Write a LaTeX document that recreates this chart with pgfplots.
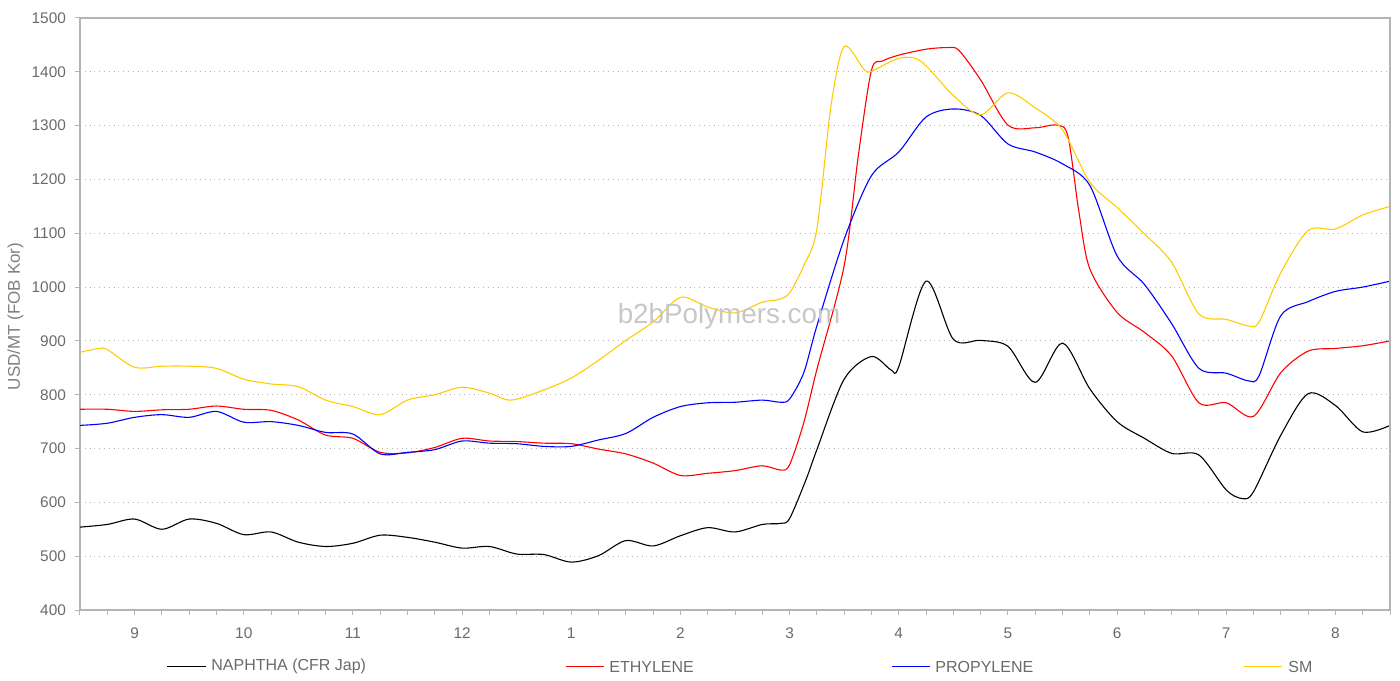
\documentclass[border=0pt]{standalone}
\usepackage{pgfplots}
\pgfplotsset{compat=1.18}
\usepackage{fontspec}
\setmainfont{Liberation Sans}
\definecolor{smcol}{HTML}{FFCC00}
\definecolor{txtgray}{HTML}{6A6A6A}
\definecolor{axgray}{HTML}{B4B4B4}
\begin{document}
\begin{tikzpicture}[x=1pt,y=1pt]
\path[use as bounding box] (-40,-35) rectangle (660,305);
\begin{axis}[
  at={(0,0)}, anchor=south west,
  scale only axis, width=655pt, height=296pt,
  xmin=0.5, xmax=12.5, ymin=400, ymax=1500,
  xtick={1,...,12},
  xticklabels={9,10,11,12,1,2,3,4,5,6,7,8},
  minor xtick={0.5,0.75,...,12.5},
  ytick={400,500,...,1500},
  tick pos=left, tick align=outside,
  major tick length=2.5pt, minor tick length=2.5pt,
  every tick/.style={axgray, line width=0.5pt},
  axis line style={axgray, line width=0.6pt},
  ymajorgrids, major grid style={dotted, color=black!30, line width=0.5pt},
  /pgf/number format/assume math mode=true,
  /pgf/number format/1000 sep={},
  ticklabel style={font=\fontsize{7.7}{9}\selectfont, text=txtgray},
  xticklabel style={yshift=-3pt},
  yticklabel style={xshift=-1pt},
  clip=true,
]
% NAPHTHA
\addplot[black, line width=0.55pt, smooth, tension=0.5] coordinates {
(0.5,554)(0.75,559)(1.0,569)(1.25,550)(1.5,569)(1.75,561)(2.0,540)(2.25,545)(2.5,526)(2.75,518)
(3.0,524)(3.25,539)(3.5,535)(3.75,526)(4.0,515)(4.25,518)(4.5,504)(4.75,503)(5.0,489)(5.25,501)
(5.5,529)(5.75,519)(6.0,538)(6.25,553)(6.5,545)(6.75,559)(6.92,561)(7.0,570)(7.15,642)(7.25,698)
(7.5,829)(7.75,871)(7.93,846)(8.0,852)(8.25,1011)(8.5,903)(8.75,901)(9.0,890)(9.25,823)(9.5,896)
(9.75,811)(10.0,750)(10.25,719)(10.5,691)(10.75,688)(11.0,623)(11.15,607)(11.25,620)(11.5,725)
(11.75,802)(12.0,780)(12.25,731)(12.5,743)
};
% ETHYLENE
\addplot[red, line width=0.55pt, smooth, tension=0.5] coordinates {
(0.5,773)(0.75,773)(1.0,769)(1.25,772)(1.5,773)(1.75,779)(2.0,773)(2.25,771)(2.5,753)(2.75,725)
(3.0,719)(3.25,693)(3.5,692)(3.75,702)(4.0,719)(4.25,714)(4.5,713)(4.75,710)(5.0,709)(5.25,699)
(5.5,690)(5.75,673)(6.0,650)(6.25,654)(6.5,659)(6.75,668)(6.92,660)(7.0,670)(7.13,748)(7.25,847)
(7.5,1040)(7.63,1245)(7.75,1403)(7.85,1420)(8.0,1431)(8.25,1442)(8.45,1445)(8.55,1440)(8.75,1385)(9.0,1301)
(9.25,1296)(9.45,1301)(9.55,1280)(9.65,1140)(9.75,1034)(10.0,953)(10.25,916)(10.5,872)(10.75,785)
(11.0,785)(11.25,760)(11.5,841)(11.75,881)(12.0,886)(12.25,891)(12.5,900)
};
% PROPYLENE
\addplot[blue, line width=0.55pt, smooth, tension=0.5] coordinates {
(0.5,743)(0.75,747)(1.0,758)(1.25,763)(1.5,758)(1.75,769)(2.0,749)(2.25,750)(2.5,743)(2.75,730)
(3.0,727)(3.25,690)(3.5,693)(3.75,698)(4.0,714)(4.25,710)(4.5,709)(4.75,704)(5.0,704)(5.25,716)
(5.5,728)(5.75,758)(6.0,778)(6.25,785)(6.5,786)(6.75,790)(6.92,786)(7.0,792)(7.13,841)(7.25,928)
(7.5,1089)(7.75,1207)(8.0,1251)(8.25,1316)(8.5,1331)(8.75,1319)(9.0,1266)(9.25,1251)(9.5,1229)
(9.75,1189)(10.0,1058)(10.25,1005)(10.5,932)(10.75,849)(11.0,840)(11.2,826)(11.3,835)(11.5,947)
(11.75,973)(12.0,992)(12.25,1000)(12.5,1011)
};
% SM
\addplot[smcol, line width=0.55pt, smooth, tension=0.5] coordinates {
(0.5,879)(0.68,886)(0.75,884)(1.0,851)(1.25,853)(1.5,853)(1.75,849)(2.0,829)(2.25,820)(2.5,815)
(2.75,790)(3.0,778)(3.25,763)(3.5,790)(3.75,800)(4.0,814)(4.25,803)(4.45,790)(4.75,809)(5.0,831)
(5.25,864)(5.5,901)(5.75,935)(6.0,981)(6.25,963)(6.5,952)(6.75,972)(6.9,977)(7.0,989)(7.13,1040)
(7.25,1108)(7.38,1338)(7.5,1447)(7.68,1405)(7.75,1401)(8.0,1425)(8.2,1420)(8.5,1356)(8.75,1320)
(9.0,1361)(9.25,1333)(9.5,1292)(9.75,1195)(10.0,1148)(10.25,1099)(10.5,1046)(10.75,950)(11.0,940)
(11.2,928)(11.3,935)(11.5,1027)(11.75,1105)(12.0,1108)(12.25,1134)(12.5,1150)
};
\end{axis}
% box top and right
\draw[axgray, line width=0.6pt] (0,296) -- (655,296) -- (655,0);
% y label
\node[rotate=90, text=txtgray!85, font=\fontsize{8.5}{10}\selectfont] at (-32.25,146.75) {USD/MT (FOB Kor)};
% watermark
\node[text=black!22, font=\fontsize{13.9}{16}\selectfont] at (324.5,147) {b2bPolymers.com};
% legend
\begin{scope}[font=\fontsize{8}{10}\selectfont]
\draw[black, line width=0.55pt] (43.5,-28.25) -- (63,-28.25);
\node[anchor=west, text=txtgray, inner sep=0] at (65.5,-28.25) {NAPHTHA (CFR Jap)};
\draw[red, line width=0.55pt] (243,-28.25) -- (262,-28.25);
\node[anchor=west, text=txtgray, inner sep=0] at (264.5,-28.25) {ETHYLENE};
\draw[blue, line width=0.55pt] (406,-28.25) -- (425,-28.25);
\node[anchor=west, text=txtgray, inner sep=0] at (427.5,-28.25) {PROPYLENE};
\draw[smcol, line width=0.55pt] (582,-28.25) -- (601,-28.25);
\node[anchor=west, text=txtgray, inner sep=0] at (604,-28.25) {SM};
\end{scope}
\end{tikzpicture}
\end{document}
